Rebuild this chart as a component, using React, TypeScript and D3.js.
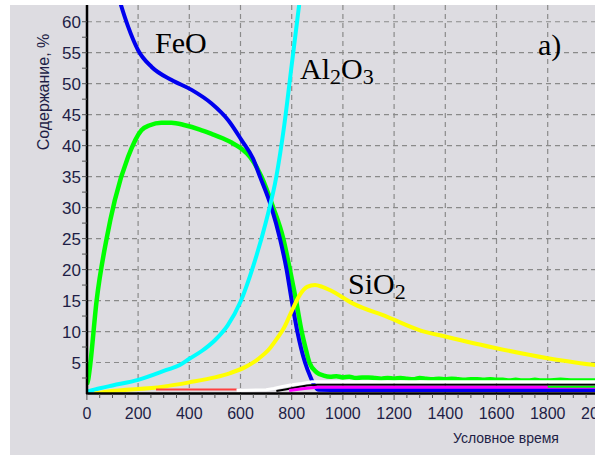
import React from "react";
import * as d3 from "d3";

// time (условное время) / content (%)
const feoT = [100, 133, 161, 200, 253, 331, 409, 487, 552, 604, 649, 676, 721, 754, 780, 800, 822, 852, 875, 890, 905, 1000, 1800, 2000];
const feoV = [67.5, 62.7, 59.2, 55.4, 52.7, 50.6, 49.0, 46.8, 44.1, 40.9, 37.9, 35, 30, 25, 20, 15, 10, 5, 2.5, 1.2, 0.6, 0.55, 0.55, 0.55];

const greenT = [0, 5, 12, 38, 77, 109, 161, 213, 246, 291, 330, 383, 441, 487, 530, 565, 604, 637, 682, 728, 767, 793, 817, 839, 856, 869, 898, 925, 950, 975, 1000, 1025, 1050, 1075, 1100, 1125, 1150, 1175, 1200, 1225, 1250, 1275, 1300, 1325, 1350, 1375, 1400, 1425, 1450, 1475, 1500, 1525, 1550, 1575, 1600, 1625, 1650, 1675, 1700, 1725, 1750, 1775, 1800, 1850, 1900, 1950, 2000];
const greenV = [1.5, 2.2, 4.3, 15, 25, 31.2, 38.2, 42.5, 43.3, 43.7, 43.7, 43.3, 42.6, 41.9, 41.2, 40.5, 39.5, 38.2, 35, 30, 25, 20, 15, 10, 7, 5, 3.4, 2.9, 2.7, 2.8, 2.6, 2.7, 2.5, 2.6, 2.6, 2.5, 2.4, 2.5, 2.4, 2.5, 2.4, 2.3, 2.5, 2.4, 2.3, 2.4, 2.3, 2.4, 2.3, 2.2, 2.3, 2.3, 2.2, 2.3, 2.2, 2.2, 2.1, 2.2, 2.1, 2.1, 2.2, 2.1, 2.1, 2.2, 2.1, 2.1, 2.1];

const al2o3T = [0, 51, 100, 200, 311, 363, 400, 450, 500, 550, 600, 650, 700, 740, 770, 800, 829, 850];
const al2o3V = [0.3, 0.84, 1.3, 2.2, 3.8, 4.6, 5.6, 6.9, 8.6, 11.0, 14.8, 20.6, 27.8, 35, 43, 53, 62.7, 70];

const sio2T = [30, 77, 298, 400, 500, 560, 620, 670, 715, 745, 770, 800, 830, 860, 891, 920, 949, 1040, 1171, 1301, 1400, 1600, 1800, 2000];
const sio2V = [0, 0.3, 1.1, 1.8, 2.6, 3.3, 4.3, 5.6, 7.3, 9.0, 10.6, 13.3, 15.8, 17.2, 17.5, 17.2, 16.7, 14.5, 12.4, 10.2, 9.2, 7.3, 5.7, 4.5];

// minor components near the bottom
const redT = [270, 585];
const redV = [0.65, 0.65];
const whiteT = [585, 700, 730, 760, 800, 840, 880, 2000];
const whiteV = [0.5, 0.6, 0.8, 1.1, 1.4, 1.6, 1.9, 1.9];
const blackT = [740, 780, 820, 860, 900, 2000];
const blackV = [0.4, 0.7, 1.0, 1.3, 1.4, 1.4];
const magentaT = [790, 850, 900, 2000];
const magentaV = [0.5, 0.8, 1.0, 1.0];
const green2T = [1800, 2000];
const green2V = [1.1, 1.1];

const xTicks = [0, 200, 400, 600, 800, 1000, 1200, 1400, 1600, 1800, 2000];
const yTicks = [5, 10, 15, 20, 25, 30, 35, 40, 45, 50, 55, 60];

const W = 595;
const H = 455;

const App = () => {
  const x = d3.scaleLinear().domain([0, 2000]).range([86.9, 598.9]);
  const y = d3.scaleLinear().domain([0, 62.7]).range([393.5, 5]);
  const smooth = d3.line<[number, number]>().x(d => x(d[0])).y(d => y(d[1])).curve(d3.curveMonotoneX);
  const straight = d3.line<[number, number]>().x(d => x(d[0])).y(d => y(d[1]));
  const path = (t: number[], v: number[], s: boolean) => {
    const pts = t.map((d, i) => [d, v[i]] as [number, number]);
    return (s ? smooth(pts) : straight(pts)) || "";
  };

  const minorX = d3.range(0, 2001, 50);
  const minorY = d3.range(2.5, 62, 2.5);
  const tickFont = "'Liberation Sans', Arial, sans-serif";
  const labelFont = "'Liberation Serif', 'Times New Roman', serif";

  const series = [
    { t: greenT, v: greenV, c: "#00ff00", w: 4.5, s: true },
    { t: feoT, v: feoV, c: "#0000ee", w: 4, s: true },
    { t: al2o3T, v: al2o3V, c: "#00ffff", w: 4, s: true },
    { t: sio2T, v: sio2V, c: "#ffff00", w: 4, s: true },
    { t: redT, v: redV, c: "#ff4040", w: 2, s: false },
    { t: whiteT, v: whiteV, c: "#ffffff", w: 3, s: false },
    { t: blackT, v: blackV, c: "#000000", w: 2, s: false },
    { t: magentaT, v: magentaV, c: "#ff00ff", w: 3, s: false },
    { t: green2T, v: green2V, c: "#00ff00", w: 2, s: false },
  ];

  return (
    <svg width={W} height={H} style={{ position: "absolute", left: 0, top: 0 }}>
      <defs>
        <clipPath id="plot">
          <rect x={88} y={5} width={W - 88} height={388} />
        </clipPath>
      </defs>
      <rect x={0} y={0} width={W} height={H} fill="#ffffff" />
      <rect x={10} y={5} width={W - 10} height={H - 5} fill="#dddce1" />

      {/* grid */}
      {xTicks.filter(d => d > 0).map(d => (
        <line key={"gx" + d} x1={x(d)} x2={x(d)} y1={5} y2={393} stroke="#8a8a8a" strokeWidth={1.2} strokeDasharray="5,4" />
      ))}
      {yTicks.map(d => (
        <line key={"gy" + d} x1={87} x2={W} y1={y(d)} y2={y(d)} stroke="#8a8a8a" strokeWidth={1.2} strokeDasharray="5,4" />
      ))}

      {/* curves */}
      <g clipPath="url(#plot)" fill="none" strokeLinejoin="round">
        {series.map((s, i) => (
          <path key={i} d={path(s.t, s.v, s.s)} stroke={s.c} strokeWidth={s.w} />
        ))}
      </g>

      {/* axes */}
      <line x1={87} x2={87} y1={5} y2={394} stroke="#000" strokeWidth={2.5} />
      <line x1={86} x2={W} y1={393.5} y2={393.5} stroke="#000" strokeWidth={2.5} />
      {minorX.map(d => (
        <line key={"tx" + d} x1={x(d)} x2={x(d)} y1={394} y2={d % 200 === 0 ? 400 : 398} stroke="#555" strokeWidth={1} />
      ))}
      {minorY.map(d => (
        <line key={"ty" + d} x1={82} x2={87} y1={y(d)} y2={y(d)} stroke="#555" strokeWidth={1} />
      ))}

      {/* tick labels */}
      {xTicks.map(d => (
        <text key={"lx" + d} x={x(d)} y={419} textAnchor="middle" fontFamily={tickFont} fontSize={16} fill="#1e1e46">
          {d}
        </text>
      ))}
      {yTicks.map(d => (
        <text key={"ly" + d} x={81} y={y(d) + 6} textAnchor="end" fontFamily={tickFont} fontSize={17} fill="#1e1e46">
          {d}
        </text>
      ))}

      <text transform="translate(49,92) rotate(-90)" textAnchor="middle" fontFamily={tickFont} fontSize={16} fill="#1e1e46">
        Содержание, %
      </text>
      <text x={506} y={443} textAnchor="middle" fontFamily={tickFont} fontSize={14} fill="#1e1e46">
        Условное время
      </text>

      {/* annotations */}
      <text x={155} y={53} fontFamily={labelFont} fontSize={30} fill="#000">FeO</text>
      <text x={300} y={79} fontFamily={labelFont} fontSize={30} fill="#000">
        Al<tspan fontSize={22} dy={5}>2</tspan><tspan dy={-5}>O</tspan><tspan fontSize={22} dy={5}>3</tspan>
      </text>
      <text x={538} y={55} fontFamily={labelFont} fontSize={30} fill="#000">a)</text>
      <text x={348} y={294} fontFamily={labelFont} fontSize={30} fill="#000">
        SiO<tspan fontSize={22} dy={5}>2</tspan>
      </text>
    </svg>
  );
};

export default App;
